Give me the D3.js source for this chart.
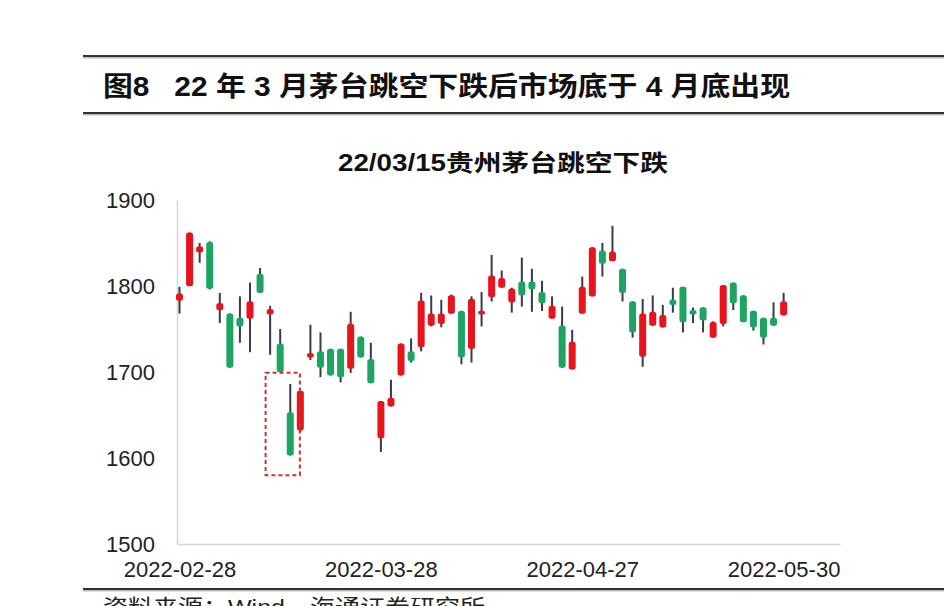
<!DOCTYPE html>
<html>
<head>
<meta charset="utf-8">
<script src="https://cdn.jsdelivr.net/npm/d3@7"></script>
<style>
  body { margin: 0; background: #fff; overflow: hidden; }
  text { font-family: "Liberation Sans", Arial, "Noto Sans CJK SC", sans-serif; white-space: pre; }
  .cjk { font-family: "Liberation Sans", "Noto Sans CJK SC", sans-serif; }
</style>
</head>
<body>
<div id="chart"></div>
<script>
// trading days, Feb 28 - May 30 2022
var dates = ["2022-02-28","2022-03-01","2022-03-02","2022-03-03","2022-03-04",
  "2022-03-07","2022-03-08","2022-03-09","2022-03-10","2022-03-11",
  "2022-03-14","2022-03-15","2022-03-16","2022-03-17","2022-03-18",
  "2022-03-21","2022-03-22","2022-03-23","2022-03-24","2022-03-25",
  "2022-03-28","2022-03-29","2022-03-30","2022-03-31","2022-04-01",
  "2022-04-06","2022-04-07","2022-04-08",
  "2022-04-11","2022-04-12","2022-04-13","2022-04-14","2022-04-15",
  "2022-04-18","2022-04-19","2022-04-20","2022-04-21","2022-04-22",
  "2022-04-25","2022-04-26","2022-04-27","2022-04-28","2022-04-29",
  "2022-05-05","2022-05-06",
  "2022-05-09","2022-05-10","2022-05-11","2022-05-12","2022-05-13",
  "2022-05-16","2022-05-17","2022-05-18","2022-05-19","2022-05-20",
  "2022-05-23","2022-05-24","2022-05-25","2022-05-26","2022-05-27",
  "2022-05-30"];

var opens  = [1784,1801,1840,1850,1773,1767,1762,1763,1813,1768,
  1732,1652,1633,1718,1723,1726,1726,1705,1740,1714,
  1624,1661,1697,1723,1730,1755,1757,1769,1770,1728,
  1768,1788,1799,1782,1804,1804,1792,1763,1753,1704,
  1769,1789,1840,1830,1819,1781,1719,1755,1753,1783,
  1798,1771,1774,1741,1757,1803,1788,1770,1762,1762,1767];
var highs  = [1799,1862,1850,1852,1792,1768,1788,1804,1821,1777,
  1750,1686,1678,1755,1746,1727,1727,1770,1741,1734,
  1666,1691,1733,1739,1792,1789,1784,1790,1771,1788,
  1793,1836,1818,1798,1833,1820,1806,1788,1776,1749,
  1811,1845,1850,1870,1820,1782,1785,1789,1778,1798,
  1799,1775,1775,1759,1801,1804,1789,1771,1763,1781,1792];
var lows   = [1768,1800,1827,1796,1757,1705,1734,1723,1792,1720,
  1700,1603,1630,1714,1694,1696,1688,1699,1717,1687,
  1607,1660,1696,1711,1724,1753,1752,1768,1709,1711,
  1753,1782,1798,1769,1776,1770,1771,1762,1705,1703,
  1768,1788,1811,1829,1782,1740,1706,1754,1752,1769,
  1746,1757,1746,1740,1753,1772,1758,1748,1732,1754,1766];
var closes = [1790,1861,1845,1798,1779,1706,1754,1781,1793,1772,
  1701,1604,1677,1721,1706,1697,1695,1755,1718,1688,
  1665,1669,1732,1714,1782,1767,1767,1788,1718,1784,
  1770,1811,1808,1796,1790,1797,1781,1776,1706,1734,
  1798,1844,1827,1839,1793,1747,1767,1769,1765,1779,
  1759,1768,1761,1757,1800,1781,1759,1753,1741,1755,1781];

var yTicks = [1500, 1600, 1700, 1800, 1900];
var xTickDates = ["2022-02-28", "2022-03-28", "2022-04-27", "2022-05-30"];

// highlighted gap-down area (dates / price range)
var boxDates = ["2022-03-10", "2022-03-16"];
var boxPrices = [1580, 1699];

var svgWidth = 944;
var svgHeight = 606;

var svg = d3.select("#chart")
  .append("svg")
  .attr("width", svgWidth)
  .attr("height", svgHeight);

// header lines + titles
var rules = [56, 113, 589];
rules.forEach(function(y) {
  svg.append("line")
    .attr("x1", 83).attr("x2", svgWidth)
    .attr("y1", y + 1.5).attr("y2", y + 1.5)
    .attr("stroke", "#bbb").attr("stroke-width", 2);
  svg.append("line")
    .attr("x1", 83).attr("x2", svgWidth)
    .attr("y1", y).attr("y2", y)
    .attr("stroke", "#333").attr("stroke-width", 2);
});

svg.append("text")
  .attr("class", "cjk")
  .attr("x", 103).attr("y", 96)
  .attr("font-size", 27).attr("font-weight", "bold")
  .attr("fill", "#111")
  .attr("textLength", 687).attr("lengthAdjust", "spacingAndGlyphs")
  .text("图8   22 年 3 月茅台跳空下跌后市场底于 4 月底出现");

svg.append("text")
  .attr("class", "cjk")
  .attr("x", 338).attr("y", 171)
  .attr("font-size", 23).attr("font-weight", "bold")
  .attr("fill", "#111")
  .attr("textLength", 330).attr("lengthAdjust", "spacingAndGlyphs")
  .text("22/03/15贵州茅台跳空下跌");

svg.append("text")
  .attr("class", "cjk")
  .attr("x", 103).attr("y", 615)
  .attr("font-size", 22)
  .attr("fill", "#222")
  .attr("textLength", 382).attr("lengthAdjust", "spacingAndGlyphs")
  .text("资料来源：Wind，海通证券研究所");

// Step 1: scales
var xScale = d3.scaleLinear()
  .domain([-0.25, 65.6])
  .range([177, 840]);

var yScale = d3.scaleLinear()
  .domain([1500, 1900])
  .range([544, 200]);

var idx = d => dates.indexOf(d);

// Step 2: axes
var leftAxis = d3.axisLeft(yScale)
  .tickValues(yTicks)
  .tickSize(0)
  .tickPadding(22)
  .tickFormat(d3.format("d"));

var bottomAxis = d3.axisBottom(xScale)
  .tickValues(xTickDates.map(idx))
  .tickSize(0)
  .tickPadding(17)
  .tickFormat(i => dates[i]);

var yAxisG = svg.append("g")
  .attr("transform", `translate(${xScale.range()[0]}, 0)`)
  .call(leftAxis);

var xAxisG = svg.append("g")
  .attr("transform", `translate(0, ${yScale.range()[0]})`)
  .call(bottomAxis);

[yAxisG, xAxisG].forEach(function(g) {
  g.select(".domain").attr("stroke", "#d4d4d4").attr("stroke-width", 1.5);
  g.selectAll("text")
    .attr("font-size", 22)
    .attr("fill", "#222")
    .attr("font-family", "Liberation Sans, Arial, sans-serif");
});

// Step 3: candles
var data = dates.map(function(d, i) {
  return { date: d, i: i, open: opens[i], high: highs[i], low: lows[i], close: closes[i] };
});

var candles = svg.append("g").selectAll("g")
  .data(data)
  .enter()
  .append("g");

candles.append("line")
  .attr("x1", d => xScale(d.i))
  .attr("x2", d => xScale(d.i))
  .attr("y1", d => yScale(d.high))
  .attr("y2", d => yScale(d.low))
  .attr("stroke", "#3a3a48")
  .attr("stroke-width", 2);

candles.append("rect")
  .attr("x", d => xScale(d.i) - 3.5)
  .attr("width", 7)
  .attr("y", d => yScale(Math.max(d.open, d.close)) - 1)
  .attr("height", d => Math.abs(yScale(d.open) - yScale(d.close)) + 2)
  .attr("rx", 2.5)
  .attr("fill", d => d.close >= d.open ? "#e8141c" : "#1da462");

// Step 4: dashed highlight box
svg.append("rect")
  .attr("x", xScale(idx(boxDates[0]) + 0.55))
  .attr("y", yScale(boxPrices[1]))
  .attr("width", xScale(idx(boxDates[1])) - xScale(idx(boxDates[0]) + 0.55) - 0.5)
  .attr("height", yScale(boxPrices[0]) - yScale(boxPrices[1]))
  .attr("fill", "none")
  .attr("stroke", "#d0312a")
  .attr("stroke-width", 2)
  .attr("stroke-dasharray", "4,3");
</script>
</body>
</html>
